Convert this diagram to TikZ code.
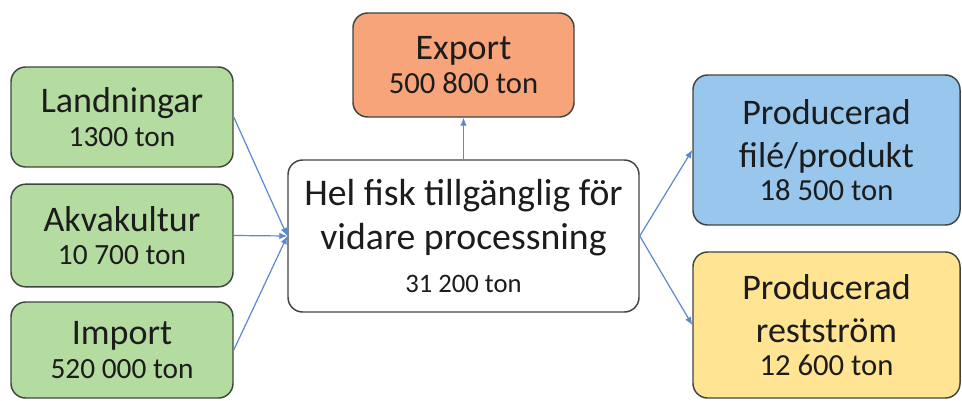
\documentclass[tikz,border=0pt]{standalone}
\usepackage{fontspec}
\setmainfont{Carlito}
\usetikzlibrary{arrows.meta}
\definecolor{gfill}{HTML}{B4DBA0}
\definecolor{ofill}{HTML}{F7A47A}
\definecolor{bfill}{HTML}{98C6EC}
\definecolor{yfill}{HTML}{FFE493}
\definecolor{bord}{HTML}{3F4640}
\definecolor{arr}{HTML}{5A88D2}
\definecolor{txt}{HTML}{1C1C1C}
\newcommand{\lab}{\fontsize{27}{32}\selectfont}
\newcommand{\numa}{\fontsize{22}{25}\selectfont}
\newcommand{\numb}{\fontsize{23}{25}\selectfont}
\newcommand{\numc}{\fontsize{20}{25}\selectfont}
\begin{document}
\begin{tikzpicture}[x=0.75pt,y=-0.75pt,
  flowbox/.style={draw=bord, line width=1.1pt, rounded corners=11pt, align=center,
    text=txt, inner sep=0pt, font=\lab},
  flowarrow/.style={draw=arr, line width=0.9pt, -{Latex[length=6pt,width=5pt]}}]
\useasboundingbox (0,0) rectangle (962,400);
\node[flowbox, fill=gfill, minimum width=166.5pt, minimum height=75pt] (L) at (122,117)
  {Landningar\\[-7pt]\numa 1300 ton};
\node[flowbox, fill=gfill, minimum width=166.5pt, minimum height=77pt] (A) at (122,235.5)
  {Akvakultur\\[-7pt]\numa 10 700 ton};
\node[flowbox, fill=gfill, minimum width=166.5pt, minimum height=72pt] (I) at (122,350)
  {Import\\[-7pt]\numa 520 000 ton};
\node[flowbox, fill=ofill, minimum width=165.75pt, minimum height=78pt] (E) at (463.5,65)
  {Export\\[-7pt]\numb 500 800 ton};
\node[flowbox, fill=white, minimum width=263.25pt, minimum height=114pt,
  font=\fontsize{28.3}{35}\selectfont] (C) at (463.5,236)
  {Hel fisk tillgänglig för\\[-2pt]vidare processning\\[-3pt]\numc 31 200 ton};
\node[flowbox, fill=bfill, minimum width=200.25pt, minimum height=112.5pt] (F) at (826.5,150)
  {Producerad\\filé/produkt\\[-7pt]\numb 18 500 ton};
\node[flowbox, fill=yfill, minimum width=200.25pt, minimum height=109.5pt] (R) at (826.5,325)
  {Producerad\\restström\\[-7pt]\numb 12 600 ton};
\draw[flowarrow] (L.east) -- (C.west);
\draw[flowarrow] (A.east) -- (C.west);
\draw[flowarrow] (I.east) -- (C.west);
\draw[flowarrow] (C.north) -- (E.south);
\draw[flowarrow] (C.east) -- (F.west);
\draw[flowarrow] (C.east) -- (R.west);
\end{tikzpicture}
\end{document}
